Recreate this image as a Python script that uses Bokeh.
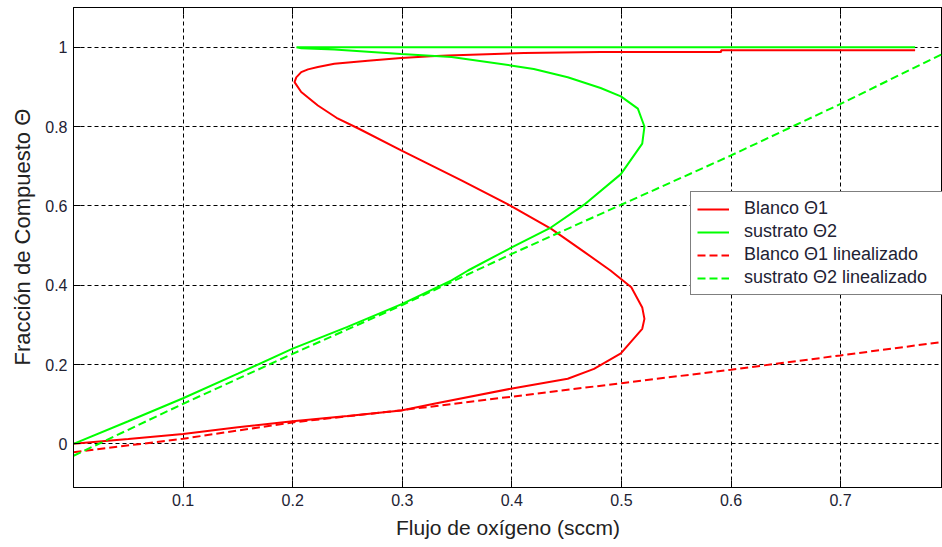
from bokeh.plotting import figure
from bokeh.models import (Range1d, FixedTicker, NumeralTickFormatter, LinearAxis,
                          Legend, LegendItem, Title)
from bokeh.embed import file_html
from bokeh.resources import INLINE

# Blanco (target) coverage, solid curve
blanco_x = [0.0, 0.05, 0.1, 0.15, 0.2, 0.25, 0.299, 0.329, 0.399, 0.451, 0.475,
            0.4995, 0.519, 0.521, 0.519, 0.509, 0.49, 0.466, 0.436, 0.399, 0.354,
            0.299, 0.26, 0.24, 0.223, 0.2078, 0.2017, 0.2033, 0.2078, 0.214, 0.223,
            0.238, 0.2686, 0.299, 0.326, 0.3416, 0.411, 0.481, 0.591, 0.591, 0.768]
blanco_y = [0.0, 0.012, 0.025, 0.042, 0.057, 0.07, 0.084, 0.101, 0.139, 0.164, 0.189,
            0.228, 0.29, 0.315, 0.344, 0.395, 0.437, 0.484, 0.542, 0.60, 0.664,
            0.74, 0.795, 0.822, 0.853, 0.887, 0.912, 0.924, 0.937, 0.944, 0.95,
            0.958, 0.966, 0.973, 0.977, 0.979, 0.985, 0.988, 0.988, 0.992, 0.992]

# Sustrato (substrate) coverage, solid curve
sustrato_x = [0.0, 0.05, 0.1, 0.15, 0.2, 0.25, 0.3, 0.345, 0.36, 0.399, 0.436, 0.466,
              0.4995, 0.519, 0.521, 0.515, 0.4995, 0.481, 0.451, 0.42, 0.399, 0.345,
              0.299, 0.238, 0.208, 0.2035, 0.768]
sustrato_y = [0.0, 0.057, 0.115, 0.177, 0.24, 0.295, 0.353, 0.412, 0.437, 0.494, 0.546,
              0.603, 0.68, 0.757, 0.80, 0.845, 0.876, 0.897, 0.924, 0.945, 0.954,
              0.975, 0.983, 0.994, 0.997, 1.0, 1.0]

# Linearised models (dashed)
lin_x = [0.0, 0.1, 0.2, 0.3, 0.4, 0.5, 0.6, 0.7, 0.793]
blanco_lin_y = [-0.021, 0.013, 0.054, 0.085, 0.119, 0.153, 0.187, 0.223, 0.257]
sustrato_lin_y = [-0.03, 0.101, 0.227, 0.35, 0.479, 0.603, 0.727, 0.857, 0.983]

x_ticks = [0.1, 0.2, 0.3, 0.4, 0.5, 0.6, 0.7]
y_ticks = [0, 0.2, 0.4, 0.6, 0.8, 1]

legend_labels = ["Blanco \u03981", "sustrato \u03982",
                 "Blanco \u03981 linealizado", "sustrato \u03982 linealizado"]

FONT = "Liberation Sans"

p = figure(width=942, height=547, output_backend="svg", toolbar_location=None,
           x_range=Range1d(0, 0.793), y_range=Range1d(-0.11, 1.1),
           min_border_left=72, min_border_right=0, min_border_top=7,
           min_border_bottom=60)
p.background_fill_color = "white"
p.border_fill_color = "white"
p.outline_line_color = "black"
p.outline_line_width = 1

r1 = p.line(blanco_x, blanco_y, line_color="#ff0000", line_width=2)
r2 = p.line(sustrato_x, sustrato_y, line_color="#00ff00", line_width=2)
r3 = p.line(lin_x, blanco_lin_y, line_color="#ff0000", line_width=2, line_dash="8 4")
r4 = p.line(lin_x, sustrato_lin_y, line_color="#00ff00", line_width=2, line_dash="8 4")

for ax, ticks in ((p.xaxis[0], x_ticks), (p.yaxis[0], y_ticks)):
    ax.ticker = FixedTicker(ticks=ticks)
    ax.formatter = NumeralTickFormatter(format="0.[0]")
    ax.major_tick_in = 7
    ax.major_tick_out = 0
    ax.minor_tick_line_color = None
    ax.axis_line_color = "black"
    ax.major_tick_line_color = "black"
    ax.major_label_text_font = FONT
    ax.major_label_text_font_size = "16px"
    ax.major_label_text_color = "#222233"

p.xaxis.axis_label = "Flujo de ox\u00edgeno (sccm)"
p.xaxis.axis_label_text_font = FONT
p.xaxis.axis_label_text_font_size = "21px"
p.xaxis.axis_label_text_font_style = "normal"
p.xaxis.axis_label_text_color = "#222222"
p.xaxis.major_label_standoff = 6
p.yaxis.major_label_standoff = 6
p.xaxis.axis_label_standoff = 7

# vertical label, starting a fixed distance above the bottom of the frame
p.add_layout(Title(text="Fracci\u00f3n de Compuesto \u0398", align="left",
                   offset=122, standoff=15, text_font=FONT, text_font_size="22px",
                   text_font_style="normal", text_color="#222222"), "left")

# box-style tick marks along the top edge (no labels)
top_axis = LinearAxis(ticker=FixedTicker(ticks=[], minor_ticks=x_ticks),
                      minor_tick_in=7, minor_tick_out=0,
                      minor_tick_line_color="black", major_tick_line_color=None,
                      major_tick_in=0, major_tick_out=0,
                      major_label_standoff=0, axis_line_color="black")
p.add_layout(top_axis, "above")

p.xgrid.ticker = FixedTicker(ticks=x_ticks)
p.ygrid.ticker = FixedTicker(ticks=y_ticks)
for g in (p.xgrid[0], p.ygrid[0]):
    g.grid_line_color = "black"
    g.grid_line_dash = "4 3"
    g.grid_line_width = 1
    g.grid_line_alpha = 1

legend = Legend(items=[LegendItem(label=legend_labels[0], renderers=[r1]),
                       LegendItem(label=legend_labels[1], renderers=[r2]),
                       LegendItem(label=legend_labels[2], renderers=[r3]),
                       LegendItem(label=legend_labels[3], renderers=[r4])],
                location=(617, 192), padding=6, spacing=2,
                glyph_width=32, glyph_height=20, label_height=20,
                label_width=192, label_standoff=15, label_text_font=FONT,
                label_text_font_size="18px", label_text_color="#222233",
                border_line_color="black", border_line_width=1,
                background_fill_color="white", background_fill_alpha=1,
                margin=0)
p.add_layout(legend, "center")

open("out.html", "w").write(file_html(p, INLINE))
